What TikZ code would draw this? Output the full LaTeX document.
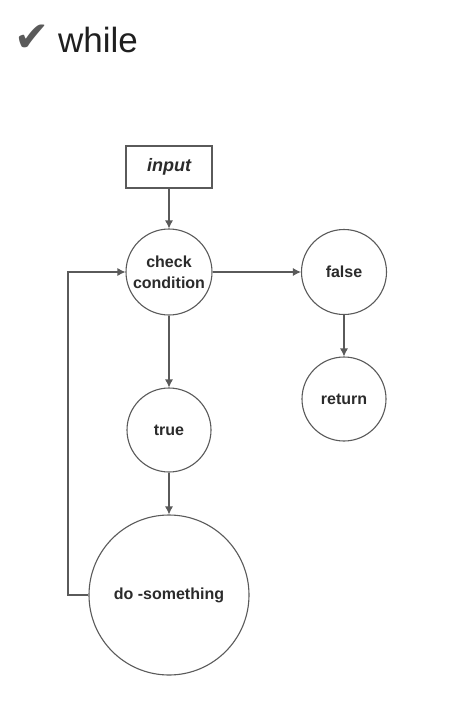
\documentclass[tikz,border=0pt]{standalone}
\usepackage{fontspec}
\setmainfont{Liberation Sans}
\newfontfamily\symbfont{DejaVu Sans}
\usetikzlibrary{arrows.meta}
\definecolor{linegray}{HTML}{5A5A5A}
\definecolor{textgray}{HTML}{2B2B2B}
\tikzstyle{etape} = [circle, draw=linegray, line width=1.1pt, inner sep=0pt, text=textgray, font=\fontsize{16}{17}\selectfont\bfseries, align=center]
\tikzstyle{fleche} = [draw=linegray, line width=1.1pt, -{Latex[length=8pt,width=8pt]}]

\begin{document}
\begin{tikzpicture}[x=1pt, y=-1pt]

        \useasboundingbox[fill=white] (0,0) rectangle (474,728);

        \node (coche) [text=linegray, font=\symbfont\fontsize{42}{42}\selectfont] at (32,38) {✔};
        \node (titre) [anchor=base west, inner sep=0pt, text=black!88, font=\fontsize{35}{40}\selectfont] at (58,52) {while};

        \node (input) [rectangle, draw=linegray, line width=1.1pt, minimum width=86pt, minimum height=42pt, text=textgray, font=\fontsize{18}{20}\selectfont\bfseries\itshape] at (169,167) {input};

        \node (check) [etape, minimum size=86pt] at (169,272) {check\\[4pt]condition};
        \node (false) [etape, minimum size=85pt] at (344,272) {false};
        \node (return) [etape, minimum size=84pt] at (344,399) {return};
        \node (true) [etape, minimum size=84pt] at (169,430) {true};
        \node (do) [etape, minimum size=160pt] at (169,595) {do -something};

        \draw[fleche] (input) -- (check);
        \draw[fleche] (check) -- (false);
        \draw[fleche] (false) -- (return);
        \draw[fleche] (check) -- (true);
        \draw[fleche] (true) -- (do);
        \draw[fleche] (do.west) -- (68,595) -- (68,272) -- (check.west);

    \end{tikzpicture}
\end{document}
